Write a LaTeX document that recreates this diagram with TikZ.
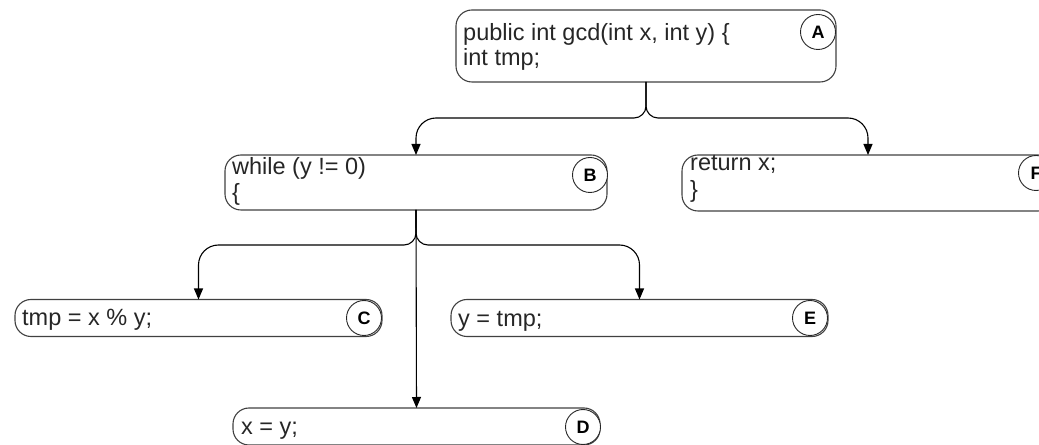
\documentclass[tikz,border=0pt]{standalone}
\usepackage{fontspec}
\setmainfont{Liberation Sans}
\usetikzlibrary{arrows.meta}
\begin{document}
\begin{tikzpicture}[x=1bp,y=-1bp,
  box/.style={draw=black!75, line width=1.1bp, rounded corners=16bp, inner sep=0pt, outer sep=0pt},
  tag/.style={circle, draw=black!85, line width=0.9bp, fill=white, minimum size=35bp, inner sep=0pt,
    font=\fontsize{18bp}{20bp}\selectfont\bfseries},
  txt/.style={anchor=base west, inner sep=0pt, text=black!85, font=\fontsize{23.5bp}{25bp}\selectfont},
  conn/.style={draw=black, line width=1.1bp, -{Triangle[width=9bp,length=11bp]}}]
\useasboundingbox (0,0) rectangle (1039,445);
% boxes
\node[box, minimum width=380bp, minimum height=72bp] (A) at (646,46) {};
\node[box, minimum width=382bp, minimum height=55bp] (B) at (416,182.5) {};
\node[box, minimum width=372bp, minimum height=56bp] (F) at (868,183) {};
\node[box, minimum width=367bp, minimum height=37bp] (C) at (198.5,318) {};
\node[box, minimum width=377bp, minimum height=37bp] (E) at (639.5,318) {};
\node[box, minimum width=367bp, minimum height=37bp] (D) at (416.5,426.5) {};
% tags
\node[tag] (tA) at (818,32) {A};
\node[tag] (tB) at (590,175) {B};
\node[tag] (tF) at (1036,173) {F};
\node[tag] (tC) at (364,318) {C};
\node[tag] (tE) at (810,318) {E};
\node[tag] (tD) at (583,427) {D};
% texts
\node[txt] (a1) at (463,41) {public int gcd(int x, int y) \{};
\node[txt] (a2) at (463,66) {int tmp;};
\node[txt] (b1) at (232,175) {while (y != 0)};
\node[txt] (b2) at (232,201) {\{};
\node[txt] (f1) at (690,171) {return x;};
\node[txt] (f2) at (690,198) {\}};
\node[txt] (c1) at (22,326) {tmp = x \% y;};
\node[txt] (e1) at (458,327) {y = tmp;};
\node[txt] (d1) at (241,434) {x = y;};
% connectors
\draw[conn] (A.south) [rounded corners=12bp] -- ++(0,36) [rounded corners=20bp] -| (B.north);
\draw[conn] (A.south) [rounded corners=12bp] -- ++(0,36) [rounded corners=20bp] -| (F.north);
\draw[conn] (B.south) [rounded corners=12bp] -- ++(0,35) [rounded corners=20bp] -| (C.north);
\draw[conn] (B.south) [rounded corners=12bp] -- ++(0,35) [rounded corners=20bp] -| (E.north);
\draw[conn] (B.south) -- (D.north);
\end{tikzpicture}
\end{document}
